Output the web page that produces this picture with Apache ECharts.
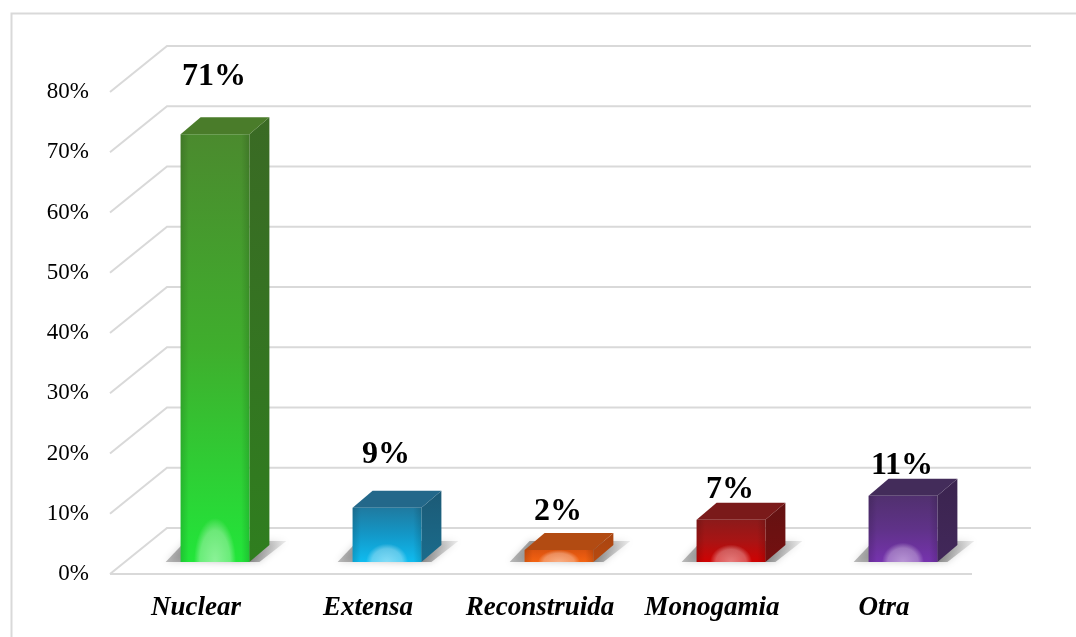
<!DOCTYPE html>
<html><head><meta charset="utf-8">
<script src="https://cdn.jsdelivr.net/npm/echarts@6/dist/echarts.min.js"></script>
<style>html,body{margin:0;padding:0;background:#fff}#c{width:1076px;height:637px}</style>
</head><body><div id="c"></div>
<script>
// ---- data ----
const categories = ['Nuclear', 'Extensa', 'Reconstruida', 'Monogamia', 'Otra'];
const values = [71, 9, 2, 7, 11];
const valueLabels = ['71%', '9%', '2%', '7%', '11%'];
const yTicks = [0, 10, 20, 30, 40, 50, 60, 70, 80];

// ---- styling ----
const barColors = [
  { front: ['#4b8a2e', '#3fae2d', '#22e63a'], side: ['#3a6a24', '#2f7e1f'], top: '#4a7c2a' },
  { front: ['#1f7aa0', '#1398c8', '#0fbcf0'], side: ['#1c5a76', '#1a6c8c'], top: '#23688a' },
  { front: ['#d9530f', '#e85a10', '#f36412'], side: ['#a84410', '#b84a10'], top: '#b24b12' },
  { front: ['#8c1a1a', '#a81414', '#d00202'], side: ['#641212', '#741010'], top: '#7a1a1a' },
  { front: ['#51306f', '#5f3288', '#7633ae'], side: ['#3b244f', '#42285a'], top: '#432c5a' }
];
const labelRise = [57, 53, 38, 30, 30];
const SERIF = '"Liberation Serif", "Times New Roman", serif';
const GRID = '#d9d9d9';
const WALL_DX = 57, WALL_DY = -46;
const BAR_DX = 20, BAR_DY = -17;

const chart = echarts.init(document.getElementById('c'), null, { renderer: 'canvas' });

const option = {
  backgroundColor: '#ffffff',
  animation: false,
  graphic: [{
    type: 'rect', left: 9, top: 11, z: 0,
    shape: { width: 1200, height: 800 },
    style: { fill: 'none', stroke: GRID, lineWidth: 2 }
  }],
  grid: { left: 110, right: 106, top: 92, bottom: 63 },
  xAxis: {
    type: 'category', data: categories, boundaryGap: true,
    axisLine: { show: false }, axisTick: { show: false }, splitLine: { show: false },
    axisLabel: {
      interval: 0, hideOverlap: false,
      margin: 21, fontFamily: SERIF, fontSize: 27, fontWeight: 'bold',
      fontStyle: 'italic', color: '#000'
    }
  },
  yAxis: {
    type: 'value', min: 0, max: 80, interval: 10,
    axisLine: { show: false }, axisTick: { show: false }, splitLine: { show: false },
    axisLabel: { formatter: '{value}%', margin: 21, fontFamily: SERIF, fontSize: 23, color: '#000' }
  },
  series: [
    {
      type: 'custom', silent: true, z: 1,
      data: yTicks.map(t => [0, t]),
      encode: { x: 0, y: 1 },
      renderItem(params, api) {
        const v = api.value(1);
        const p = api.coord([0, v]);
        const cs = params.coordSys;
        const left = cs.x, right = cs.x + cs.width;
        const y = p[1];
        const children = [{
          type: 'polyline',
          shape: { points: [[left, y], [left + WALL_DX, y + WALL_DY], [right + 61, y + WALL_DY]] },
          style: { stroke: GRID, lineWidth: 2, fill: null }
        }];
        if (v === 0) {
          children.push({
            type: 'line', shape: { x1: left, y1: y, x2: right + 2, y2: y },
            style: { stroke: GRID, lineWidth: 2 }
          });
        }
        return { type: 'group', children };
      }
    },
    {
      type: 'custom', silent: true, z: 3,
      data: values.map((v, i) => [i, v]),
      encode: { x: 0, y: 1 },
      renderItem(params, api) {
        const i = api.value(0);
        const v = api.value(1);
        const base = api.coord([i, 0]);
        const topP = api.coord([i, v]);
        const band = api.size([1, 0])[0];
        const cx = base[0] + 19;
        const hw = band * 0.2;
        const x0 = cx - hw, x1 = cx + hw;
        const yb = base[1] - 12;
        const yt = topP[1] - 12;
        const h = yb - yt;
        const c = barColors[i];
        const hr = 21;
        const vr = Math.min(h, Math.min(44, 14 + h * 0.08));
        const children = [
          // floor shadow
          {
            type: 'polygon',
            shape: { points: [[x0 - 15, yb], [x1 + 10, yb], [x1 + BAR_DX + 17, yb - 21], [x0 + 5, yb - 21]] },
            style: {
              fill: { type: 'linear', x: 0, y: 0, x2: 1, y2: 0, colorStops: [
                { offset: 0, color: 'rgba(70,70,70,0.35)' },
                { offset: 0.6, color: 'rgba(60,60,60,0.75)' },
                { offset: 1, color: 'rgba(140,140,140,0.15)' }] },
              shadowBlur: 7, shadowColor: 'rgba(0,0,0,0.35)'
            }
          },
          // side face
          {
            type: 'polygon',
            shape: { points: [[x1, yt], [x1 + BAR_DX, yt + BAR_DY], [x1 + BAR_DX, yb + BAR_DY], [x1, yb]] },
            style: { fill: { type: 'linear', x: 0, y: 0, x2: 0, y2: 1, colorStops: [
              { offset: 0, color: c.side[0] }, { offset: 1, color: c.side[1] }] } }
          },
          // top face
          {
            type: 'polygon',
            shape: { points: [[x0, yt], [x0 + BAR_DX, yt + BAR_DY], [x1 + BAR_DX, yt + BAR_DY], [x1, yt]] },
            style: { fill: c.top }
          },
          // front face
          {
            type: 'rect',
            shape: { x: x0, y: yt, width: x1 - x0, height: h },
            style: { fill: { type: 'linear', x: 0, y: 0, x2: 0, y2: 1, colorStops: [
              { offset: 0, color: c.front[0] }, { offset: 0.5, color: c.front[1] }, { offset: 1, color: c.front[2] }] } }
          },
          // front edge shading
          {
            type: 'rect',
            shape: { x: x0, y: yt, width: x1 - x0, height: h },
            style: { fill: { type: 'linear', x: 0, y: 0, x2: 1, y2: 0, colorStops: [
              { offset: 0, color: 'rgba(0,0,0,0.14)' }, { offset: 0.12, color: 'rgba(0,0,0,0)' },
              { offset: 0.88, color: 'rgba(0,0,0,0)' }, { offset: 1, color: 'rgba(0,0,0,0.14)' }] } }
          },
          // bottom glow (half ellipse)
          {
            type: 'rect',
            shape: { x: cx - hr, y: yb - hr, width: 2 * hr, height: hr },
            originX: cx, originY: yb, scaleY: vr / hr,
            style: { fill: { type: 'radial', x: 0.5, y: 1, r: 1, colorStops: [
              { offset: 0, color: 'rgba(255,255,255,0.48)' },
              { offset: 0.72, color: 'rgba(255,255,255,0.32)' },
              { offset: 1, color: 'rgba(255,255,255,0)' }] } }
          },
          // value label
          {
            type: 'text', z2: 10,
            style: {
              text: valueLabels[i], x: cx - 1, y: yt - labelRise[i],
              align: 'center', verticalAlign: 'middle',
              fontFamily: SERIF, fontSize: 32, fontWeight: 'bold', fill: '#000'
            }
          }
        ];
        return { type: 'group', children };
      }
    }
  ]
};
chart.setOption(option);
</script>
</body></html>
